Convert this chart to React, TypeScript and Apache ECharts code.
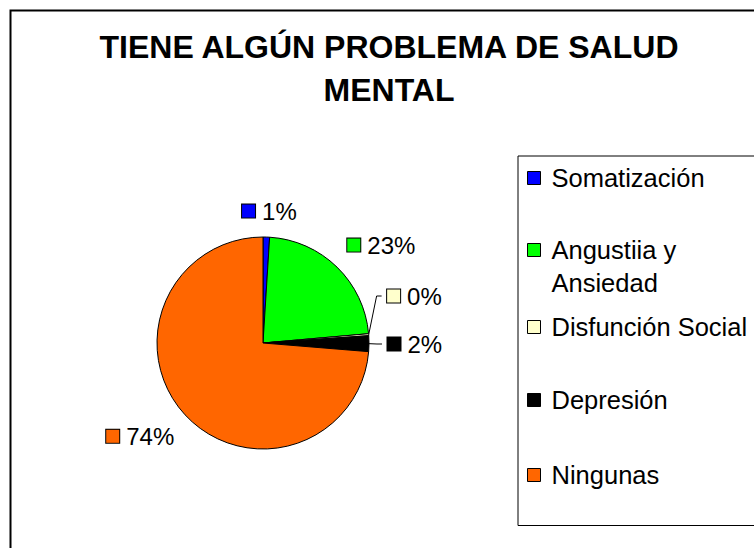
import React, { useEffect, useRef } from 'react';
import * as echarts from 'echarts';

const TITLE_LINES = ['TIENE ALGÚN PROBLEMA DE SALUD', 'MENTAL'];
const categories = ['Somatización', 'Angustiia y Ansiedad', 'Disfunción Social', 'Depresión', 'Ningunas'];
const values = [1.0, 22.6, 0.3, 2.4, 73.7];
const colors = ['#0000FF', '#00FF00', '#FFFFCC', '#000000', '#FF6600'];

const FONT = '"Liberation Sans", Arial, Helvetica, sans-serif';
const CX = 263;
const CY = 343;
const R = 106;
const LABEL_OFF = 14;
// legend text paddings (top, right, bottom, left) per entry, to reproduce the spacing
const LEGEND_PAD = [
  [3, 0, 3, 6],
  [0, 0, 0, 6],
  [8, 0, 8, 6],
  [29, 0, 29, 6],
  [10, 0, 10, 6],
];

export default function App() {
  const ref = useRef<HTMLDivElement>(null);

  useEffect(() => {
    const chart = echarts.init(ref.current as HTMLDivElement, null, { renderer: 'svg' });
    const total = values.reduce((a, b) => a + b, 0);
    const mids: number[] = [];
    let acc = 0;
    values.forEach((v) => {
      mids.push(((acc + v / 2) / total) * Math.PI * 2);
      acc += v;
    });
    const beside = mids.map((a) => Math.abs(Math.sin(a)) > 0.9);
    const clamp = (v: number) => Math.max(-1, Math.min(1, v));
    const place = (i: number, w: number, h: number) => {
      const a = mids[i];
      const s = Math.sin(a);
      const c = Math.cos(a);
      const d = R + LABEL_OFF + (beside[i] ? 4 : 0);
      const px = CX + d * s;
      const py = CY - d * c;
      const fx = clamp(3 * s);
      const fy = clamp(3 * c);
      const left = px - (w * (1 - fx)) / 2;
      const top = py - (h * (1 + fy)) / 2;
      return { left, top, cx: left + w / 2, cy: top + h / 2 };
    };
    const labelLayout = (p: any) => {
      const i = p.dataIndex;
      const w = p.labelRect.width;
      const h = p.labelRect.height;
      const b = place(i, w, h);
      let cy = b.cy;
      for (let j = i + 1; j < values.length; j++) {
        const o = place(j, w, h);
        if (Math.abs(o.cx - b.cx) < w && Math.abs(o.cy - cy) < h) cy = o.cy - 2 * h;
      }
      const res: any = { x: b.cx, y: cy, align: 'center', verticalAlign: 'middle' };
      if (beside[i]) {
        const a = mids[i];
        res.labelLinePoints = [
          [CX + R * Math.sin(a), CY - R * Math.cos(a)],
          [b.left - 10, cy],
          [b.left - 5, cy],
        ];
      }
      return res;
    };

    const rich: any = {
      t: { fontSize: 24, lineHeight: 24, fontFamily: FONT, color: '#000', padding: [0, 0, 0, 7] },
    };
    colors.forEach((c, i) => {
      rich['sq' + i] = { width: 13, height: 13, backgroundColor: c, borderColor: '#000', borderWidth: 1 };
    });

    chart.setOption({
      animation: false,
      backgroundColor: '#ffffff',
      graphic: [
        {
          type: 'rect',
          silent: true,
          shape: { x: 10.5, y: 10.5, width: 800, height: 600 },
          style: { fill: 'none', stroke: '#000', lineWidth: 2 },
        },
      ],
      title: {
        text: TITLE_LINES.join('\n'),
        left: 389,
        top: 25,
        textAlign: 'center',
        padding: 0,
        textStyle: { fontSize: 32, fontWeight: 'bold', fontFamily: FONT, lineHeight: 43, color: '#000' },
      },
      legend: {
        orient: 'vertical',
        left: 518,
        top: 156,
        padding: [2.5, 20, 24, 9],
        itemGap: 3,
        itemWidth: 13,
        itemHeight: 13,
        icon: 'rect',
        borderColor: '#000',
        borderWidth: 1,
        selectedMode: false,
        itemStyle: { borderColor: '#000', borderWidth: 1 },
        textStyle: { fontSize: 25.5, fontFamily: FONT, color: '#000', lineHeight: 33 },
        formatter: (name: string) => (name.indexOf(' y ') >= 0 ? '\n' + name.replace(' y ', ' y\n') : name),
        data: categories.map((name, i) => ({ name, textStyle: { padding: LEGEND_PAD[i] } })),
      },
      series: [
        {
          type: 'pie',
          center: [CX, CY],
          radius: R,
          startAngle: 90,
          clockwise: true,
          avoidLabelOverlap: false,
          minShowLabelAngle: 0,
          emphasis: { disabled: true },
          itemStyle: { borderColor: '#000', borderWidth: 1 },
          label: {
            show: true,
            position: 'outside',
            formatter: (p: any) => `{sq${p.dataIndex}|}{t|${Math.round(p.percent)}%}`,
            rich,
          },
          labelLine: { length: 10, length2: 5, lineStyle: { color: '#000', width: 1 } },
          labelLayout,
          data: categories.map((name, i) => ({
            name,
            value: values[i],
            itemStyle: { color: colors[i] },
            labelLine: { show: beside[i] },
          })),
        },
      ],
    });
    return () => chart.dispose();
  }, []);

  return (
    <div
      ref={ref}
      style={{ position: 'fixed', left: 0, top: 0, width: 754, height: 548, background: '#fff' }}
    />
  );
}
